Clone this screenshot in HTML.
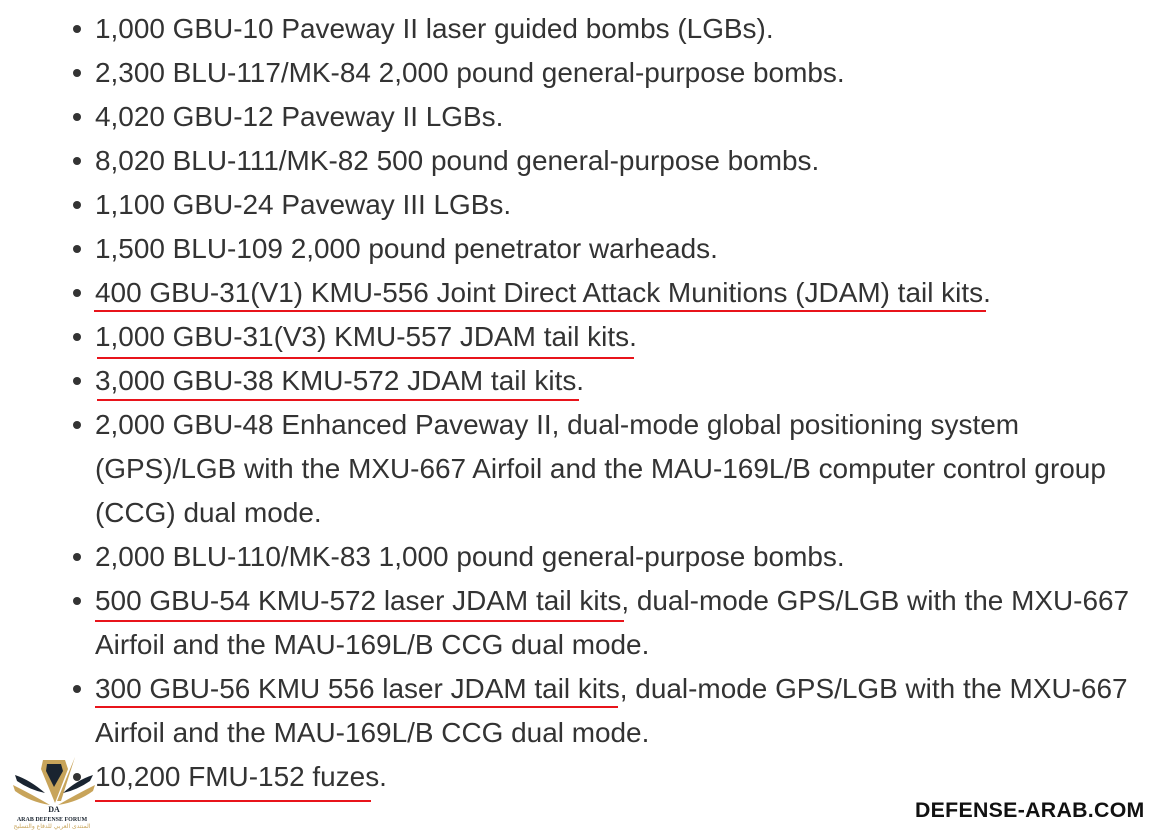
<!DOCTYPE html>
<html><head><meta charset="utf-8"><style>
body{margin:0;width:1153px;height:830px;background:#fff;position:relative;overflow:hidden;font-family:"Liberation Sans",Arial,sans-serif;color:#333}
.l{position:absolute;left:95px;font-size:27.95px;line-height:44px;white-space:nowrap}
.b{position:absolute;left:73px;width:8px;height:8px;border-radius:50%;background:#333}
.u{position:absolute;height:2px;background:#e8141b}
</style></head><body>
<div class="l" style="top:7px">1,000 GBU-10 Paveway II laser guided bombs (LGBs).</div>
<div class="l" style="top:51px">2,300 BLU-117/MK-84 2,000 pound general-purpose bombs.</div>
<div class="l" style="top:95px">4,020 GBU-12 Paveway II LGBs.</div>
<div class="l" style="top:139px">8,020 BLU-111/MK-82 500 pound general-purpose bombs.</div>
<div class="l" style="top:183px">1,100 GBU-24 Paveway III LGBs.</div>
<div class="l" style="top:227px">1,500 BLU-109 2,000 pound penetrator warheads.</div>
<div class="l" style="top:271px">400 GBU-31(V1) KMU-556 Joint Direct Attack Munitions (JDAM) tail kits.</div>
<div class="l" style="top:315px">1,000 GBU-31(V3) KMU-557 JDAM tail kits.</div>
<div class="l" style="top:359px">3,000 GBU-38 KMU-572 JDAM tail kits.</div>
<div class="l" style="top:403px">2,000 GBU-48 Enhanced Paveway II, dual-mode global positioning system</div>
<div class="l" style="top:447px">(GPS)/LGB with the MXU-667 Airfoil and the MAU-169L/B computer control group</div>
<div class="l" style="top:491px">(CCG) dual mode.</div>
<div class="l" style="top:535px">2,000 BLU-110/MK-83 1,000 pound general-purpose bombs.</div>
<div class="l" style="top:579px">500 GBU-54 KMU-572 laser JDAM tail kits, dual-mode GPS/LGB with the MXU-667</div>
<div class="l" style="top:623px">Airfoil and the MAU-169L/B CCG dual mode.</div>
<div class="l" style="top:667px">300 GBU-56 KMU 556 laser JDAM tail kits, dual-mode GPS/LGB with the MXU-667</div>
<div class="l" style="top:711px">Airfoil and the MAU-169L/B CCG dual mode.</div>
<div class="l" style="top:755px">10,200 FMU-152 fuzes.</div>

<div class="b" style="top:25px"></div><div class="b" style="top:69px"></div><div class="b" style="top:113px"></div>
<div class="b" style="top:157px"></div><div class="b" style="top:201px"></div><div class="b" style="top:245px"></div>
<div class="b" style="top:289px"></div><div class="b" style="top:333px"></div><div class="b" style="top:377px"></div>
<div class="b" style="top:421px"></div><div class="b" style="top:553px"></div><div class="b" style="top:597px"></div>
<div class="b" style="top:685px"></div><div class="b" style="top:773px"></div>

<div class="u" style="left:94px;width:892px;top:310px"></div>
<div class="u" style="left:97px;width:537px;top:357px"></div>
<div class="u" style="left:97px;width:482px;top:399px"></div>
<div class="u" style="left:95px;width:529px;top:620px"></div>
<div class="u" style="left:95px;width:523px;top:706px"></div>
<div class="u" style="left:95px;width:276px;top:800px"></div>

<svg style="position:absolute;left:5px;top:755px" width="95" height="75" viewBox="0 0 95 75">
<path d="M38 5 L60 5 L63 14 L50 48 L36 14 Z" fill="#c8a45a"/>
<path d="M42 9 L56 9 L58 16 L49 32 L41 16 Z" fill="#1a2430"/>
<path d="M70 2 L52 46 L56 46 Z" fill="#c8a45a"/>
<path d="M10 20 Q25 25 40 38 Q25 35 12 26 Z" fill="#1a2430"/>
<path d="M8 30 Q28 40 45 50 Q25 47 10 36 Z" fill="#c8a45a"/>
<path d="M88 20 Q72 25 58 38 Q72 35 85 26 Z" fill="#1a2430"/>
<path d="M90 30 Q70 40 53 50 Q73 47 88 36 Z" fill="#c8a45a"/>
<text x="49" y="57" font-size="8" font-weight="bold" text-anchor="middle" fill="#1a2430" font-family="Liberation Serif,serif">DA</text>
<text x="47" y="66" font-size="6" font-weight="bold" text-anchor="middle" fill="#1a2430" font-family="Liberation Serif,serif">ARAB DEFENSE FORUM</text>
<text x="47" y="73" font-size="6" text-anchor="middle" fill="#c8a45a" font-family="DejaVu Sans,sans-serif">المنتدى العربي للدفاع والتسليح</text>
</svg>
<div style="position:absolute;left:915px;top:798px;font-size:21.3px;font-weight:bold;color:#111;letter-spacing:0.3px">DEFENSE-ARAB.COM</div>
</body></html>
